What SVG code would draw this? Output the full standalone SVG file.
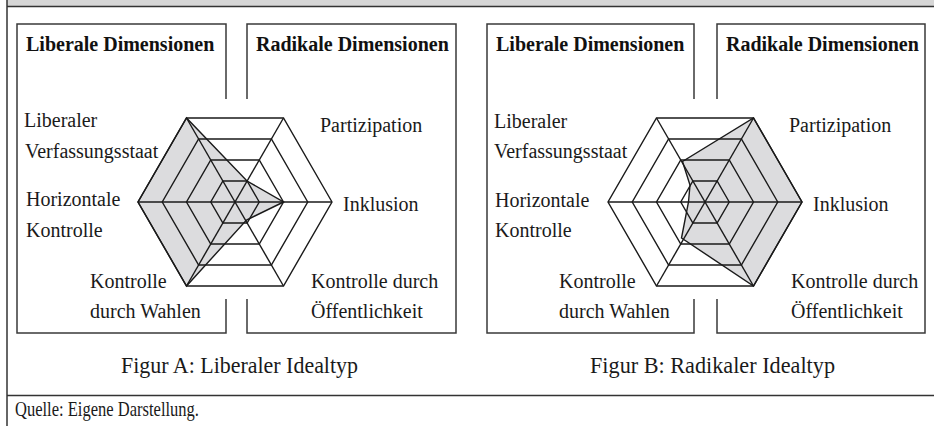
<svg xmlns="http://www.w3.org/2000/svg" xmlns:xlink="http://www.w3.org/1999/xlink" width="934" height="426" viewBox="0 0 934 426">
<style>
  .frame{fill:none;stroke:#333;stroke-width:1.5}
  .box{fill:none;stroke:#3a3a3a;stroke-width:1.5}
  .grid{fill:none;stroke:#1a1a1a;stroke-width:1.4;stroke-linejoin:miter}
  .area{fill:#dcdcde;stroke:#1a1a1a;stroke-width:1.4;stroke-linejoin:miter}
  .lbl{font-family:"Liberation Serif","Times New Roman",serif;font-size:20px;fill:#1a1a1a}
  .head{font-family:"Liberation Serif","Times New Roman",serif;font-size:20px;font-weight:bold;fill:#111}
  .cap{font-family:"Liberation Serif","Times New Roman",serif;font-size:23px;fill:#1a1a1a}
  .src{font-family:"Liberation Serif","Times New Roman",serif;font-size:22px;fill:#1a1a1a}
</style>
<defs>
  <g id="hexgrid" class="grid">
    <polygon points="97,0 48.5,-84 -48.5,-84 -97,0 -48.5,84 48.5,84"/>
    <polygon points="72.75,0 36.4,-63 -36.4,-63 -72.75,0 -36.4,63 36.4,63"/>
    <polygon points="48.5,0 24.25,-42 -24.25,-42 -48.5,0 -24.25,42 24.25,42"/>
    <polygon points="24.25,0 12.1,-21 -12.1,-21 -24.25,0 -12.1,21 12.1,21"/>
    <line x1="-97" y1="0" x2="97" y2="0"/>
    <line x1="-48.5" y1="-84" x2="48.5" y2="84"/>
    <line x1="48.5" y1="-84" x2="-48.5" y2="84"/>
  </g>
</defs>

<g id="frame">
  <rect x="7" y="0" width="927" height="6" fill="#d6d6d6"/>
  <line class="frame" x1="7" y1="6.5" x2="934" y2="6.5"/>
  <line class="frame" x1="7" y1="0" x2="7" y2="426"/>
  <line class="frame" x1="7" y1="395.5" x2="934" y2="395.5"/>
</g>

<!-- Figure A -->
<g id="figA-liberal-box">
  <path class="box" d="M226,99 V24 H17 V333 H226 V299"/>
  <text class="head" x="26" y="51">Liberale Dimensionen</text>
  <text class="lbl" x="24" y="127">Liberaler</text>
  <text class="lbl" x="25" y="158">Verfassungsstaat</text>
  <text class="lbl" x="26" y="206">Horizontale</text>
  <text class="lbl" x="26" y="237">Kontrolle</text>
  <text class="lbl" x="90" y="288">Kontrolle</text>
  <text class="lbl" x="90" y="318">durch Wahlen</text>
</g>
<g id="figA-radical-box">
  <path class="box" d="M247,99 V24 H456 V333 H247 V299"/>
  <text class="head" x="256" y="51">Radikale Dimensionen</text>
  <text class="lbl" x="320" y="132">Partizipation</text>
  <text class="lbl" x="343" y="211">Inklusion</text>
  <text class="lbl" x="311" y="288">Kontrolle durch</text>
  <text class="lbl" x="311" y="318">Öffentlichkeit</text>
</g>
<g id="figA-radar">
  <polygon class="area" points="283.5,202 246.5,220 186.5,286 138,202 186.5,118 247,181"/>
  <use xlink:href="#hexgrid" href="#hexgrid" transform="translate(235,202)"/>
</g>
<g id="figA-caption">
  <text class="cap" x="121" y="373" textLength="237" lengthAdjust="spacingAndGlyphs">Figur A: Liberaler Idealtyp</text>
</g>

<!-- Figure B -->
<g id="figB-liberal-box">
  <path class="box" d="M694,99 V24 H487 V333 H694 V299"/>
  <text class="head" x="496" y="51">Liberale Dimensionen</text>
  <text class="lbl" x="494" y="128">Liberaler</text>
  <text class="lbl" x="494" y="158">Verfassungsstaat</text>
  <text class="lbl" x="495" y="207">Horizontale</text>
  <text class="lbl" x="495" y="237">Kontrolle</text>
  <text class="lbl" x="559" y="288">Kontrolle</text>
  <text class="lbl" x="559" y="318">durch Wahlen</text>
</g>
<g id="figB-radical-box">
  <path class="box" d="M717,99 V24 H925 V333 H717 V299"/>
  <text class="head" x="726" y="51">Radikale Dimensionen</text>
  <text class="lbl" x="789" y="132">Partizipation</text>
  <text class="lbl" x="813" y="211">Inklusion</text>
  <text class="lbl" x="791" y="288">Kontrolle durch</text>
  <text class="lbl" x="791" y="318">Öffentlichkeit</text>
</g>
<g id="figB-radar">
  <polygon class="area" points="802,202 753.5,286 681.5,238 688.5,202 690,185 682.5,161.5 753.5,118"/>
  <use xlink:href="#hexgrid" href="#hexgrid" transform="translate(705,202)"/>
</g>
<g id="figB-caption">
  <text class="cap" x="590" y="373" textLength="245" lengthAdjust="spacingAndGlyphs">Figur B: Radikaler Idealtyp</text>
</g>

<g id="source">
  <text class="src" x="15" y="416" textLength="184" lengthAdjust="spacingAndGlyphs">Quelle: Eigene Darstellung.</text>
</g>
</svg>
